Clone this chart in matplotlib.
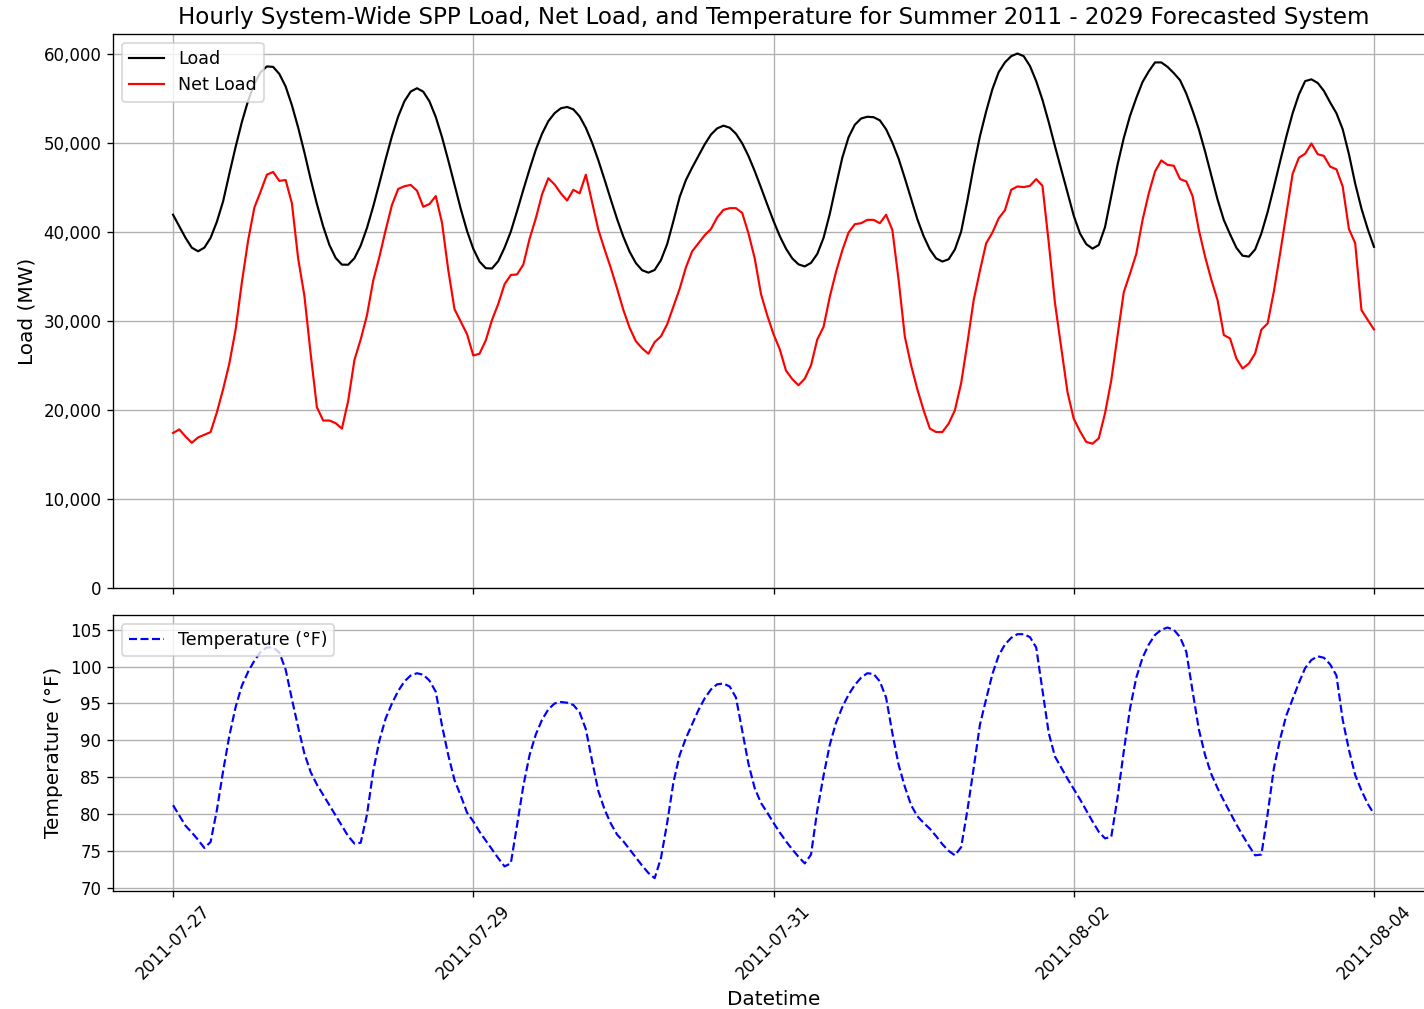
import matplotlib
matplotlib.use("Agg")
import matplotlib.pyplot as plt
import matplotlib.dates as mdates
import matplotlib.ticker as mticker
import pandas as pd

# ---- data (hourly, 2011-07-27 00:00 .. 2011-08-04 00:00) ----
start_time = "2011-07-27 00:00"

load_mw = [
    41900, 40600, 39300, 38200, 37800, 38200, 39300, 41100, 43400, 46500, 49500, 52300,
    54700, 56600, 57900, 58550, 58500, 57700, 56300, 54200, 51700, 48900, 45900, 43100,
    40600, 38500, 37050, 36300, 36290, 37020, 38430, 40410, 42820, 45470, 48170, 50730,
    52940, 54650, 55730, 56100, 55720, 54620, 52880, 50620, 48010, 45260, 42550, 40090,
    38080, 36640, 35900, 35870, 36700, 38200, 40000, 42300, 44700, 47000, 49200, 51000,
    52400, 53300, 53850, 54000, 53730, 52940, 51660, 49980, 48000, 45820, 43580, 41400,
    39420, 37740, 36470, 35670, 35400, 35700, 36800, 38600, 41200, 43900, 45800, 47200,
    48500, 49800, 50900, 51600, 51900, 51670, 50990, 49910, 48490, 46800, 44950, 43050,
    41200, 39510, 38090, 37000, 36330, 36100, 36500, 37500, 39300, 42000, 45200, 48300,
    50600, 52000, 52700, 52900, 52850, 52500, 51500, 50000, 48200, 46000, 43700, 41400,
    39500, 38000, 37000, 36650, 36900, 38000, 40000, 43500, 47300, 50700, 53500, 56000,
    57900, 59000, 59700, 60000, 59700, 58600, 56900, 54800, 52300, 49600, 47000, 44400,
    41800, 39800, 38600, 38100, 38500, 40500, 44000, 47500, 50500, 53000, 55000, 56800,
    58000, 59000, 59000, 58500, 57800, 57000, 55500, 53600, 51500, 49000, 46300, 43600,
    41300, 39700, 38200, 37300, 37200, 38000, 39800, 42200, 45000, 47900, 50700, 53300,
    55400, 56900, 57100, 56700, 55800, 54500, 53300, 51500, 48700, 45400, 42600, 40300,
    38300,
]

net_load_mw = [
    17400, 17800, 17000, 16300, 16900, 17200, 17500, 19700, 22300, 25200, 29000, 34300,
    39000, 42700, 44500, 46400, 46700, 45700, 45800, 43200, 37000, 32800, 26300, 20300,
    18800, 18800, 18500, 17900, 21000, 25600, 27900, 30600, 34500, 37200, 40200, 43000,
    44800, 45100, 45250, 44600, 42800, 43100, 44000, 41000, 35700, 31300, 29900, 28500,
    26100, 26300, 27800, 30100, 31900, 34100, 35140, 35200, 36300, 39200, 41500, 44200,
    46000, 45300, 44300, 43500, 44700, 44300, 46400, 43300, 40200, 38000, 35900, 33600,
    31200, 29200, 27700, 26900, 26300, 27600, 28250, 29600, 31600, 33600, 36000, 37800,
    38700, 39600, 40300, 41600, 42450, 42640, 42640, 42100, 39800, 37000, 33000, 30600,
    28500, 26800, 24400, 23450, 22760, 23500, 25000, 27900, 29300, 32700, 35500, 37900,
    39900, 40840, 40950, 41325, 41325, 40950, 41900, 40200, 34600, 28200, 25000, 22300,
    19950, 17890, 17510, 17510, 18450, 19950, 23000, 27500, 32300, 35600, 38700, 39900,
    41500, 42400, 44700, 45075, 45000, 45150, 45900, 45150, 38800, 32000, 27000, 22000,
    19000, 17600, 16400, 16200, 16800, 19600, 23300, 28300, 33200, 35300, 37500, 41300,
    44300, 46760, 48000, 47500, 47400, 45900, 45640, 44000, 40200, 37200, 34600, 32300,
    28400, 28010, 25760, 24640, 25200, 26325, 29000, 29700, 33300, 37575, 42000, 46500,
    48300, 48750, 49900, 48700, 48500, 47300, 47000, 45075, 40300, 38700, 31200, 30100,
    29025,
]

temperature_f = [
    81.2, 79.8, 78.4, 77.5, 76.5, 75.4, 76.2, 80.5, 85.8, 90.6, 94.5, 97.4,
    99.3, 100.8, 102.0, 102.6, 102.6, 101.9, 99.6, 95.6, 91.8, 88.2, 85.7, 84.0,
    82.6, 81.2, 79.8, 78.4, 77.0, 76.0, 76.1, 79.9, 85.8, 90.0, 93.0, 95.0,
    96.7, 98.0, 98.8, 99.1, 98.9, 98.1, 96.6, 92.0, 88.0, 84.6, 82.5, 80.2,
    79.0, 77.6, 76.4, 75.2, 74.0, 72.9, 73.3, 78.5, 83.8, 88.0, 90.8, 92.8,
    94.2, 95.0, 95.2, 95.1, 94.8, 93.8, 91.5, 87.2, 83.1, 80.6, 78.7, 77.2,
    76.3, 75.2, 74.1, 73.0, 72.0, 71.3, 74.0, 78.8, 84.3, 88.0, 90.3, 92.2,
    94.1, 95.7, 96.9, 97.6, 97.7, 97.3, 95.8, 91.3, 86.8, 83.5, 81.5, 80.2,
    78.8, 77.5, 76.3, 75.2, 74.2, 73.3, 74.5, 80.5, 85.2, 89.4, 92.4, 94.5,
    96.2, 97.5, 98.5, 99.1, 99.0, 98.0, 95.8, 91.0, 86.7, 83.7, 81.2, 79.7,
    78.8, 78.0, 77.0, 75.9, 75.0, 74.4, 75.5, 80.5, 86.2, 92.1, 95.6, 99.0,
    101.5, 103.0, 103.9, 104.4, 104.4, 104.0, 102.6, 96.8, 91.0, 87.8, 86.3, 84.8,
    83.4, 82.0, 80.5, 79.0, 77.6, 76.7, 76.9, 82.2, 88.5, 94.3, 98.5, 101.2,
    103.0, 104.3, 105.0, 105.3, 105.0, 104.0, 102.0, 96.7, 91.5, 88.0, 85.4, 83.5,
    81.8, 80.2, 78.6, 77.1, 75.7, 74.4, 74.5, 80.0, 86.2, 90.2, 93.4, 95.6,
    97.8, 99.8, 100.9, 101.4, 101.2, 100.3, 98.8, 92.8, 88.7, 85.3, 83.2, 81.4,
    80.0,
]

title_text = "Hourly System-Wide SPP Load, Net Load, and Temperature for Summer 2011 - 2029 Forecasted System"

times = pd.date_range(start_time, periods=len(load_mw), freq="h")

DPI = 120
fig = plt.figure(figsize=(1424 / DPI, 1009 / DPI), dpi=DPI)

W, H = 1424.0, 1009.0
left_px, right_px = 113.0, 1434.0
ax1 = fig.add_axes([left_px / W, 1 - 588 / H, (right_px - left_px) / W, (588 - 34) / H])
ax2 = fig.add_axes([left_px / W, 1 - 890.7 / H, (right_px - left_px) / W, (890.7 - 615) / H],
                   sharex=ax1)

LW = 1.3
ax1.plot(times, load_mw, color="black", linewidth=LW, label="Load")
ax1.plot(times, net_load_mw, color="red", linewidth=LW, label="Net Load")
ax1.set_ylim(bottom=0)
ax1.set_ylabel("Load (MW)", fontsize=12)
ax1.set_title(title_text, fontsize=13.8)
ax1.yaxis.set_major_formatter(mticker.FuncFormatter(lambda v, p: f"{v:,.0f}"))
ax1.grid(True)
ax1.legend(loc="upper left", fontsize=10.5)
plt.setp(ax1.get_xticklabels(), visible=False)

ax2.plot(times, temperature_f, color="blue", linestyle="--", linewidth=LW,
         label="Temperature (°F)")
ax2.set_ylabel("Temperature (°F)", fontsize=12)
ax2.set_xlabel("Datetime", fontsize=12)
ax2.grid(True)
ax2.legend(loc="upper left", fontsize=10.5)

ax2.xaxis.set_major_locator(mdates.DayLocator(interval=2))
ax2.xaxis.set_major_formatter(mdates.DateFormatter("%Y-%m-%d"))
for lab in ax2.get_xticklabels():
    lab.set_rotation(45)

fig.savefig("out.png", dpi=DPI)
